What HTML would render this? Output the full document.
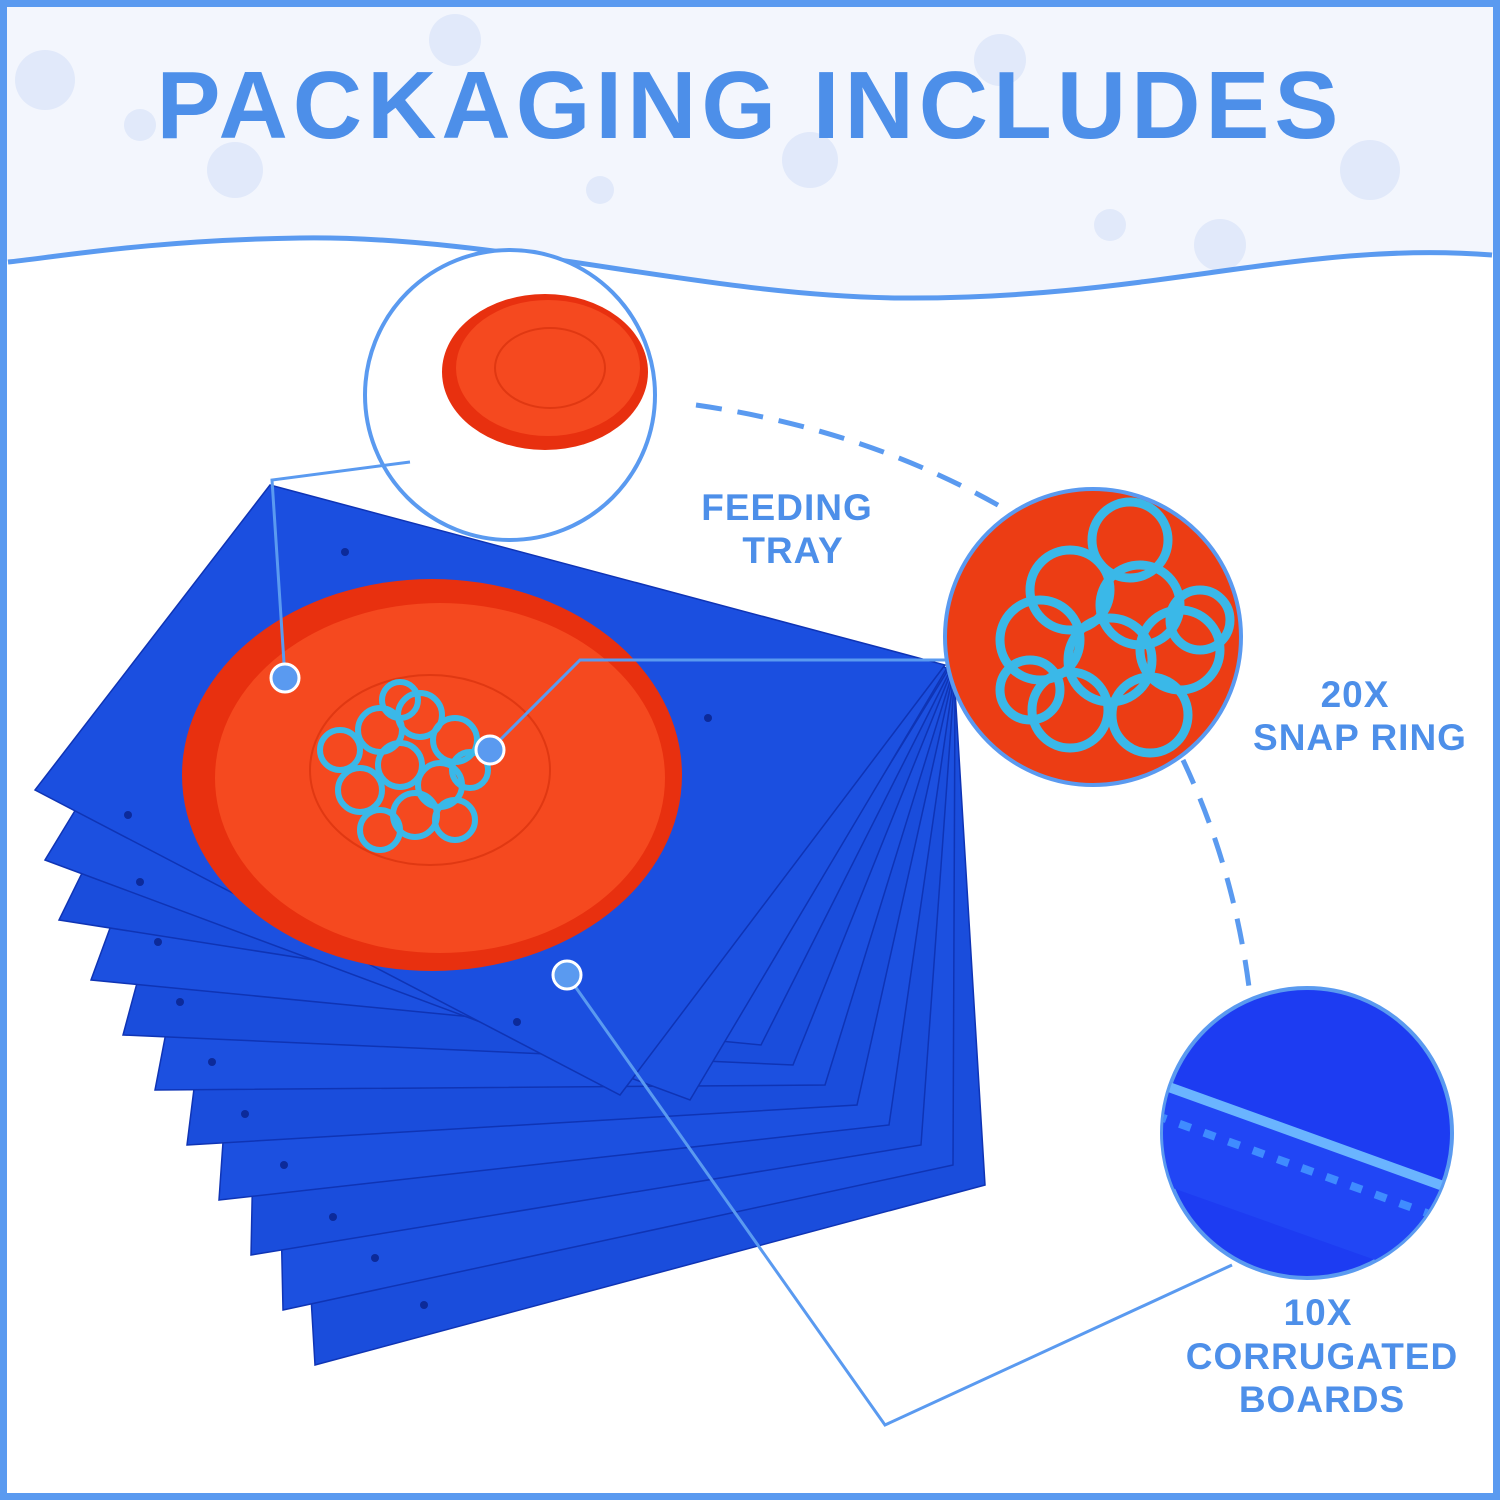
<!DOCTYPE html>
<html><head><meta charset="utf-8"><style>
html,body{margin:0;padding:0;width:1500px;height:1500px;overflow:hidden;background:#fff}
svg{display:block}
text{font-family:"Liberation Sans",sans-serif;font-weight:bold;fill:#4d8fe9}
</style></head><body>
<svg width="1500" height="1500" viewBox="0 0 1500 1500" xmlns="http://www.w3.org/2000/svg">
<defs>
<clipPath id="c2"><circle cx="1093" cy="637" r="146"/></clipPath>
<clipPath id="c3"><circle cx="1307" cy="1133" r="144"/></clipPath>
</defs>
<rect width="1500" height="1500" fill="#fff"/>
<path d="M0 0H1500V255 C1300 240 1150 300 900 298 C700 296 500 235 300 238 C150 240 50 258 0 262Z" fill="#f3f6fd"/>
<g fill="#e1e9fa">
<circle cx="45" cy="80" r="30"/><circle cx="235" cy="170" r="28"/><circle cx="455" cy="40" r="26"/><circle cx="810" cy="160" r="28"/><circle cx="1000" cy="60" r="26"/><circle cx="1370" cy="170" r="30"/><circle cx="1220" cy="245" r="26"/><circle cx="140" cy="125" r="16"/><circle cx="1110" cy="225" r="16"/><circle cx="600" cy="190" r="14"/>
</g>
<path d="M8 262 C50 258 150 240 300 238 C500 235 700 296 900 298 C1150 300 1300 240 1492 255" fill="none" stroke="#5a9af0" stroke-width="5"/>
<text x="750" y="138" font-size="96" text-anchor="middle" letter-spacing="5">PACKAGING INCLUDES</text>

<g stroke="#0f34b5" stroke-width="1.5">
<polygon points="315,1365 985,1185 955,690 265,512" fill="#1a4ddc"/>
<polygon points="283,1310 953,1165 955,688 266,510" fill="#1c50e0"/>
<polygon points="251,1255 921,1145 954,685 266,507" fill="#1a4ddc"/>
<polygon points="219,1200 889,1125 953,683 267,505" fill="#1c50e0"/>
<polygon points="187,1145 857,1105 952,680 267,502" fill="#1a4ddc"/>
<polygon points="155,1090 825,1085 951,678 268,500" fill="#1c50e0"/>
<polygon points="123,1035 793,1065 950,675 268,497" fill="#1a4ddc"/>
<polygon points="91,980 761,1045 949,673 269,495" fill="#1c50e0"/>
<polygon points="59,920 729,1025 948,670 269,492" fill="#1a4ddc"/>
<polygon points="45,860 690,1100 947,668 270,490" fill="#1c50e0"/>
<polygon points="35,790 620,1095 945,665 270,485" fill="#1b4fe0"/>
</g>
<g fill="#0c2a9a"><circle cx="345" cy="552" r="4"/><circle cx="708" cy="718" r="4"/><circle cx="128" cy="815" r="4"/><circle cx="140" cy="882" r="4"/><circle cx="158" cy="942" r="4"/><circle cx="180" cy="1002" r="4"/><circle cx="212" cy="1062" r="4"/><circle cx="245" cy="1114" r="4"/><circle cx="284" cy="1165" r="4"/><circle cx="333" cy="1217" r="4"/><circle cx="375" cy="1258" r="4"/><circle cx="424" cy="1305" r="4"/><circle cx="517" cy="1022" r="4"/></g>
<ellipse cx="432" cy="775" rx="250" ry="196" fill="#e8300f"/>
<ellipse cx="440" cy="778" rx="225" ry="175" fill="#f5491f"/>
<ellipse cx="430" cy="770" rx="120" ry="95" fill="none" stroke="#e03812" stroke-width="2"/>
<g fill="none" stroke="#3ab8e8" stroke-width="6">
<circle cx="380" cy="730" r="22"/><circle cx="420" cy="715" r="22"/><circle cx="455" cy="740" r="22"/><circle cx="400" cy="765" r="22"/><circle cx="360" cy="790" r="22"/><circle cx="440" cy="785" r="22"/><circle cx="415" cy="815" r="22"/><circle cx="380" cy="830" r="20"/><circle cx="455" cy="820" r="20"/><circle cx="340" cy="750" r="20"/><circle cx="470" cy="770" r="18"/><circle cx="400" cy="700" r="18"/>
</g>
<circle cx="510" cy="395" r="145" fill="#fff" stroke="#5a9af0" stroke-width="4"/>
<ellipse cx="545" cy="372" rx="103" ry="78" fill="#e8300f"/>
<ellipse cx="548" cy="368" rx="92" ry="68" fill="#f5491f"/>
<ellipse cx="550" cy="368" rx="55" ry="40" fill="none" stroke="#e03812" stroke-width="2"/>
<circle cx="1093" cy="637" r="148" fill="#ec3d14" stroke="#5a9af0" stroke-width="4"/>
<g clip-path="url(#c2)" fill="none" stroke="#3ab8e8" stroke-width="9">
<circle cx="1130" cy="540" r="38"/><circle cx="1070" cy="590" r="40"/><circle cx="1140" cy="605" r="40"/><circle cx="1040" cy="640" r="40"/><circle cx="1110" cy="660" r="42"/><circle cx="1180" cy="650" r="40"/><circle cx="1070" cy="710" r="38"/><circle cx="1150" cy="715" r="38"/><circle cx="1200" cy="620" r="30"/><circle cx="1030" cy="690" r="30"/>
</g>
<circle cx="1307" cy="1133" r="145" fill="#1d3cf2" stroke="#5a9af0" stroke-width="4"/>
<g clip-path="url(#c3)">
<polygon points="1150,1085 1460,1195 1460,1290 1150,1180" fill="#2146f5"/>
<path d="M1155 1082 L1460 1192" stroke="#6ab4ff" stroke-width="10"/>
<path d="M1155 1115 L1460 1225" stroke="#3f8cff" stroke-width="8" stroke-dasharray="12 14"/>
</g>
<g fill="none" stroke="#5a9af0" stroke-width="3">
<polyline points="410,462 272,480 285,678"/>
<polyline points="490,750 580,660 945,660"/>
<polyline points="567,975 885,1425 1232,1265"/>
</g>
<g fill="none" stroke="#5a9af0" stroke-width="5" stroke-dasharray="26 16">
<path d="M696 405 Q870 430 1010 512"/>
<path d="M1183 760 Q1235 870 1250 995"/>
</g>
<g fill="#5a9af0" stroke="#fff" stroke-width="3"><circle cx="285" cy="678" r="14"/><circle cx="490" cy="750" r="14"/><circle cx="567" cy="975" r="14"/></g>
<g font-size="37" text-anchor="middle" letter-spacing="1">
<text x="787" y="520">FEEDING</text><text x="793" y="563">TRAY</text>
<text x="1355" y="707">20X</text><text x="1360" y="750">SNAP RING</text>
<text x="1318" y="1325">10X</text><text x="1322" y="1369">CORRUGATED</text><text x="1322" y="1412">BOARDS</text>
</g>
<rect x="3" y="3" width="1494" height="1494" fill="none" stroke="#5a9af0" stroke-width="8"/>
</svg>
</body></html>
